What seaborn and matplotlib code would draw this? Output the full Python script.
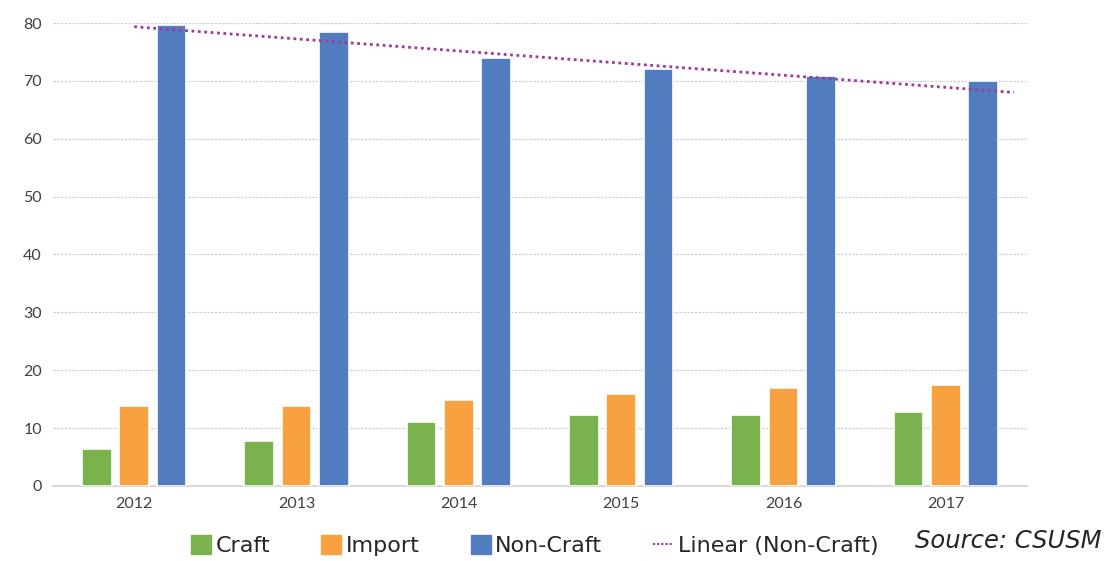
import numpy as np
import pandas as pd
import seaborn as sns
import matplotlib.pyplot as plt
from matplotlib.lines import Line2D

years = ["2012", "2013", "2014", "2015", "2016", "2017"]
craft = [6.4, 7.7, 11.0, 12.2, 12.3, 12.7]
imports = [13.8, 13.8, 14.9, 15.9, 17.0, 17.4]
non_craft = [79.6, 78.4, 74.0, 72.0, 70.8, 69.9]

series = ["Craft", "Import", "Non-Craft"]
colors = ["#7AB24E", "#F8A141", "#517DC0"]

df = pd.DataFrame({
    "year": years * 3,
    "share": craft + imports + non_craft,
    "kind": [s for s in series for _ in years],
})

sns.set_style("white")
plt.rcParams["font.family"] = ["Lato", "DejaVu Sans"]

fig = plt.figure(figsize=(11.05, 5.61), dpi=100)
ax = fig.add_axes([0.048, 0.1337, 0.8814, 0.8253])

sns.barplot(data=df, x="year", y="share", hue="kind", palette=colors,
            saturation=1, width=0.69, gap=0.2, edgecolor="white",
            linewidth=1.2, legend=False, ax=ax, zorder=3)

# linear trendline on non-craft
xs = np.arange(len(years))
slope, icpt = np.polyfit(xs, non_craft, 1)
xt = np.array([0, 5.42])
ax.plot(xt, icpt + slope * xt, color="#A3379B", linestyle=(0, (1, 1.3)),
        linewidth=2, zorder=4)

ax.set_xlim(-0.5, 5.5)
ax.set_ylim(0, 80)
ax.set_yticks(range(0, 81, 10))
ax.yaxis.grid(True, color="#D0D0D0", linestyle=(0, (2, 1)), linewidth=0.9)
ax.set_axisbelow(True)
for s in ["top", "right", "left"]:
    ax.spines[s].set_visible(False)
ax.spines["bottom"].set_color("#D9D9D9")
ax.spines["bottom"].set_linewidth(1.5)
ax.tick_params(axis="both", length=0, labelsize=11.5, colors="#404040", pad=8)
ax.set_xlabel("")
ax.set_ylabel("")

handles = [plt.Rectangle((0, 0), 1, 1, color=c) for c in colors]
handles.append(Line2D([0], [0], color="#A3379B", linestyle=(0, (1, 1)), linewidth=1.5))
labels = series + ["Linear (Non-Craft)"]
fig.legend(handles, labels, loc="center", bbox_to_anchor=(0.484, 0.027), ncol=4,
           frameon=False, prop={"family": "DejaVu Sans", "size": 16},
           handlelength=0.9, handleheight=0.9,
           handletextpad=0.2, columnspacing=2.3, labelcolor="#262626")

fig.text(0.997, 0.036, "Source: CSUSM", ha="right", va="center",
         fontsize=17.5, style="italic", family="DejaVu Sans", color="#262626")

fig.savefig("out.png", dpi=100)
